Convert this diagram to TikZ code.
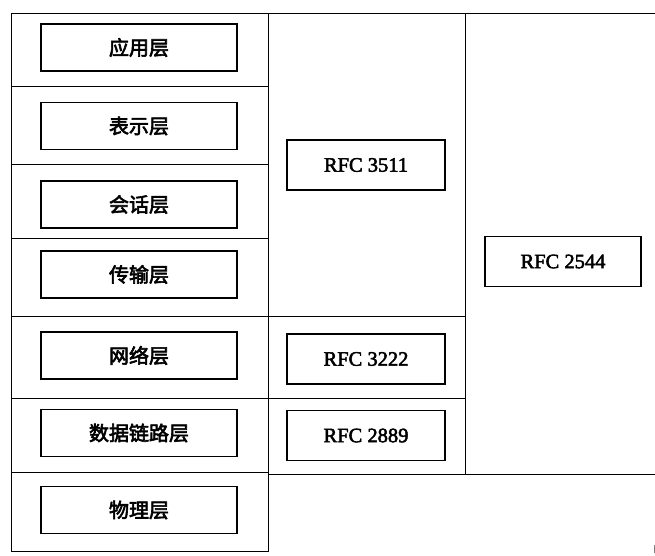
\documentclass[tikz,border=0pt]{standalone}
\usepackage{fontspec}
\setmainfont{Liberation Serif}
\newfontfamily\cjk[FakeBold=3]{Noto Sans CJK SC}
\newfontfamily\rfcfont[FakeBold=2.5]{Liberation Serif}
\begin{document}
\begin{tikzpicture}[x=1pt,y=-1pt,
  grid/.style={line width=0.9pt},
  layer/.style={draw, line width=1.8pt, minimum width=196pt, minimum height=47pt, inner sep=0pt, font=\cjk\fontsize{20}{20}\selectfont},
  rfc/.style={draw, line width=1.8pt, minimum width=158pt, minimum height=50pt, inner sep=0pt, font=\rfcfont\fontsize{20.5}{20.5}\selectfont}]
\useasboundingbox (0,0) rectangle (655,555);
% grid
\draw[grid] (11,13) -- (655,13);
\draw[grid] (11,13) -- (11,551) -- (268,551) -- (268,13);
\draw[grid] (465,13) -- (465,474);
\draw[grid] (11,86) -- (268,86);
\draw[grid] (11,164) -- (268,164);
\draw[grid] (11,238) -- (268,238);
\draw[grid] (11,316) -- (465,316);
\draw[grid] (11,398) -- (465,398);
\draw[grid] (11,472) -- (268,472);
\draw[grid] (268,474) -- (655,474);
\draw[line width=0.5pt, gray] (654,545) -- (654,553);
% layers
\node[layer] (app) at (139,47.5) {应用层};
\node[layer] (pres) at (139,126) {表示层};
\node[layer] (sess) at (139,204.5) {会话层};
\node[layer] (trans) at (139,274.5) {传输层};
\node[layer] (net) at (139,355.5) {网络层};
\node[layer] (link) at (139,433) {数据链路层};
\node[layer] (phy) at (139,510) {物理层};
% rfcs
\node[rfc] (r3511) at (366,165) {RFC 3511};
\node[rfc] (r3222) at (366,359) {RFC 3222};
\node[rfc] (r2889) at (366,435.5) {RFC 2889};
\node[rfc, minimum width=156pt] (r2544) at (563,261.5) {RFC 2544};
\end{tikzpicture}
\end{document}
